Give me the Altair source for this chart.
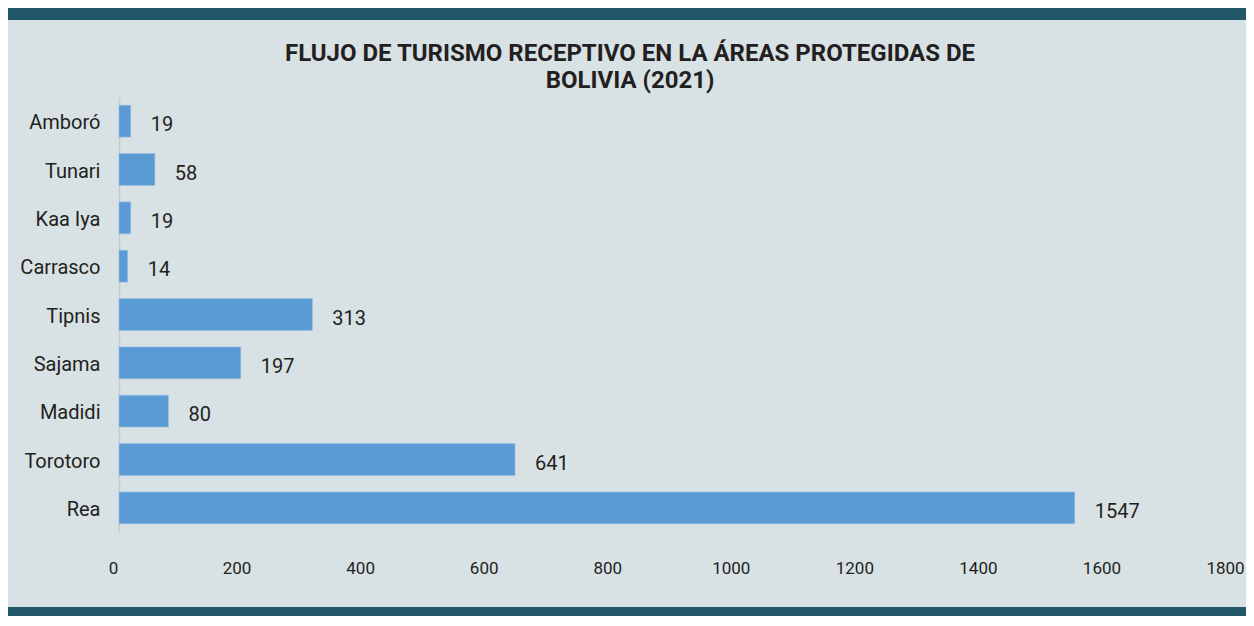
import altair as alt
import pandas as pd

# ---- data ----
areas = ["Amboró", "Tunari", "Kaa Iya", "Carrasco", "Tipnis", "Sajama", "Madidi", "Torotoro", "Rea"]
visitantes = [19, 58, 19, 14, 313, 197, 80, 641, 1547]
x_ticks = [0, 200, 400, 600, 800, 1000, 1200, 1400, 1600, 1800]
title_lines = ["FLUJO DE TURISMO RECEPTIVO EN LA ÁREAS PROTEGIDAS DE", "BOLIVIA (2021)"]

df = pd.DataFrame({"area": areas, "visitantes": visitantes})

# ---- layout ----
W, H = 1112, 435
PAD_L, PAD_T, PAD_R, PAD_B = 111, 89, 15, 84

BG = "#d8e1e4"
BAND = "#22576a"
BAR = "#5b9bd5"
TXT = "#231f20"
FONT = "Roboto"

base = alt.Chart(df)

y_enc = alt.Y(
    "area:N",
    sort=areas,
    scale=alt.Scale(paddingInner=0.34, paddingOuter=0.17),
    axis=alt.Axis(
        title=None, ticks=False, domain=True, domainColor="#c4ccd0", domainWidth=1.5,
        labelFont=FONT, labelFontSize=20, labelColor=TXT, labelPadding=19,
        labelOffset=2, labelBaseline="middle",
    ),
)
x_enc = alt.X(
    "visitantes:Q",
    scale=alt.Scale(domain=[0, 1800], nice=False, zero=True),
    axis=alt.Axis(
        title=None, values=x_ticks, grid=False, domain=False, ticks=False, tickSize=0,
        labelFont=FONT, labelFontSize=17, labelColor=TXT, labelPadding=36,
        labelBaseline="middle", labelFlush=False, labelOverlap=False, format="d",
        labelOffset=-6,
    ),
)

bars = base.mark_bar(color=BAR, stroke="#9cc0e4", strokeWidth=0.6).encode(y=y_enc, x=x_enc)

labels = base.mark_text(
    align="left", baseline="middle", dx=20, dy=4,
    font=FONT, fontSize=20, color=TXT,
).encode(y=alt.Y("area:N", sort=areas), x="visitantes:Q", text="visitantes:Q")

single = pd.DataFrame({"k": [0]})
top_band = alt.Chart(single).mark_rect(color=BAND).encode(
    x=alt.value(-PAD_L), x2=alt.value(W + PAD_R),
    y=alt.value(-PAD_T), y2=alt.value(-PAD_T + 12),
)
bottom_band = alt.Chart(single).mark_rect(color=BAND).encode(
    x=alt.value(-PAD_L), x2=alt.value(W + PAD_R),
    y=alt.value(H + PAD_B - 9), y2=alt.value(H + PAD_B),
)

title_x = 622 - PAD_L
title1 = alt.Chart(single).mark_text(
    align="center", baseline="middle", font=FONT, fontSize=24, fontWeight="bold", color=TXT,
).encode(x=alt.value(title_x), y=alt.value(-43), text=alt.value(title_lines[0]))
title2 = alt.Chart(single).mark_text(
    align="center", baseline="middle", font=FONT, fontSize=24, fontWeight="bold", color=TXT,
).encode(x=alt.value(title_x), y=alt.value(-16), text=alt.value(title_lines[1]))

chart = alt.layer(top_band, bottom_band, title1, title2, bars, labels).properties(
    width=W,
    height=H,
    autosize=alt.AutoSizeParams(type="none"),
    padding={"left": PAD_L, "top": PAD_T, "right": PAD_R, "bottom": PAD_B},
    background=BG,
).configure_view(stroke=None)

chart.save("out.html", embed_options={"renderer": "svg", "actions": False})
